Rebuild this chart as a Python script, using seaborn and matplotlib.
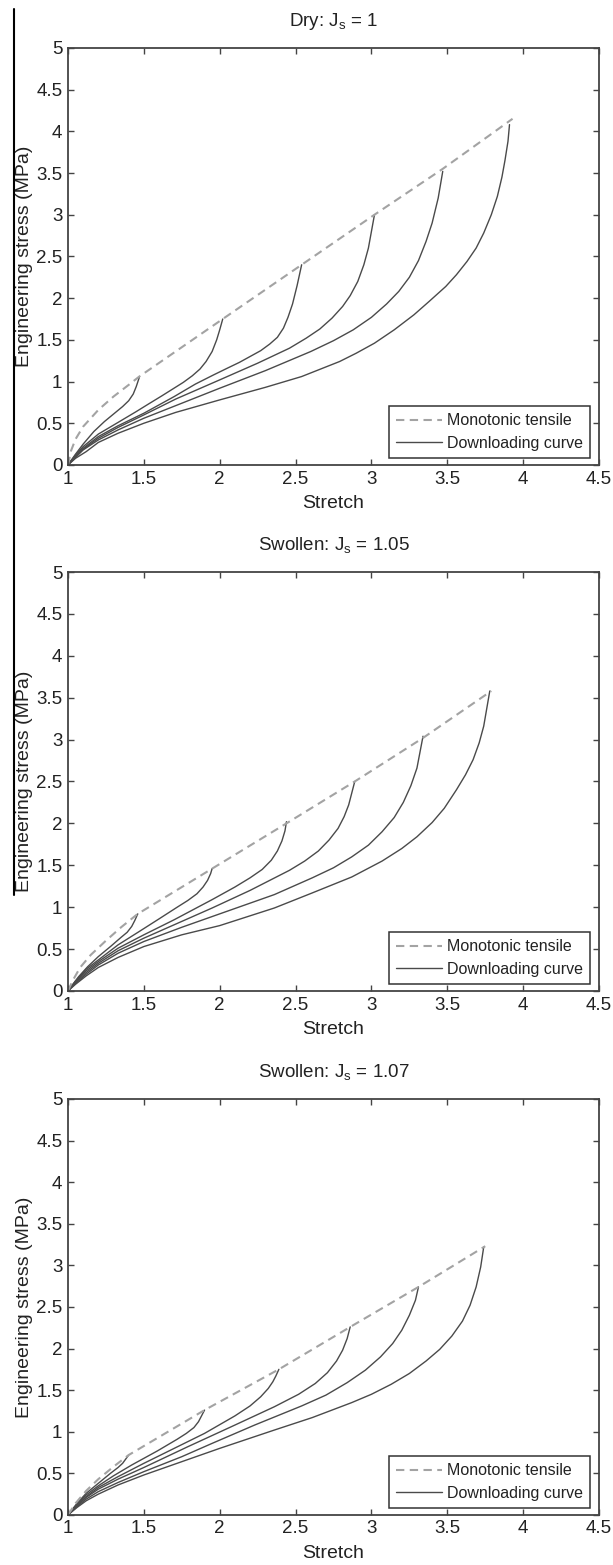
import matplotlib
matplotlib.use("Agg")
import matplotlib.pyplot as plt
from matplotlib.lines import Line2D
import seaborn as sns
import pandas as pd

# ---- Dry: J_s = 1 ----
dry_tensile_x = [1.0, 1.02, 1.05, 1.1, 1.2, 1.3, 1.4, 1.47, 2.02, 2.54, 3.02, 3.47, 3.93]
dry_tensile_y = [0.0, 0.17, 0.31, 0.46, 0.66, 0.82, 0.96, 1.06, 1.75, 2.40, 3.00, 3.55, 4.15]
dry_unload_x = [
    [1.0, 1.05, 1.1, 1.17, 1.24, 1.3, 1.36, 1.4, 1.43, 1.45, 1.47],
    [1.0, 1.05, 1.1, 1.2, 1.33, 1.45, 1.53, 1.62, 1.69, 1.76, 1.82, 1.87, 1.91, 1.95, 1.98, 2.0, 2.02],
    [1.0, 1.05, 1.1, 1.2, 1.33, 1.5, 1.7, 1.84, 1.96, 2.05, 2.13, 2.2, 2.27, 2.33, 2.38, 2.42, 2.45,
     2.48, 2.51, 2.54],
    [1.0, 1.05, 1.1, 1.2, 1.33, 1.5, 1.71, 2.0, 2.25, 2.46, 2.57, 2.66, 2.74, 2.81, 2.86, 2.91, 2.95,
     2.98, 3.0, 3.02],
    [1.0, 1.05, 1.1, 1.2, 1.33, 1.5, 1.75, 2.0, 2.3, 2.6, 2.75, 2.88, 3.0, 3.1, 3.18, 3.25, 3.31,
     3.36, 3.4, 3.44, 3.47],
    [1.0, 1.05, 1.12, 1.2, 1.33, 1.5, 1.71, 2.0, 2.3, 2.54, 2.79, 2.9, 3.02, 3.15, 3.28, 3.38, 3.49,
     3.56, 3.63, 3.69, 3.74, 3.79, 3.83, 3.86, 3.88, 3.9, 3.91],
]
dry_unload_y = [
    [0.0, 0.13, 0.25, 0.40, 0.52, 0.61, 0.70, 0.77, 0.85, 0.94, 1.05],
    [0.0, 0.12, 0.22, 0.37, 0.51, 0.64, 0.73, 0.83, 0.91, 0.99, 1.07, 1.15, 1.24, 1.36, 1.50, 1.62, 1.75],
    [0.0, 0.11, 0.20, 0.34, 0.47, 0.62, 0.82, 0.97, 1.08, 1.16, 1.23, 1.30, 1.37, 1.45, 1.53, 1.64, 1.77,
     1.93, 2.15, 2.40],
    [0.0, 0.10, 0.19, 0.32, 0.45, 0.60, 0.79, 1.02, 1.22, 1.40, 1.52, 1.63, 1.76, 1.90, 2.03, 2.20, 2.40,
     2.60, 2.80, 3.00],
    [0.0, 0.09, 0.18, 0.30, 0.42, 0.56, 0.74, 0.92, 1.13, 1.36, 1.49, 1.62, 1.77, 1.93, 2.08, 2.25, 2.45,
     2.68, 2.90, 3.20, 3.52],
    [0.0, 0.08, 0.16, 0.27, 0.38, 0.50, 0.63, 0.78, 0.93, 1.06, 1.24, 1.34, 1.46, 1.62, 1.80, 1.96, 2.14,
     2.28, 2.44, 2.60, 2.78, 3.00, 3.22, 3.45, 3.65, 3.88, 4.08],
]

# ---- Swollen: J_s = 1.05 ----
sw105_tensile_x = [1.0, 1.03, 1.08, 1.15, 1.25, 1.35, 1.46, 1.95, 2.44, 2.89, 3.34, 3.79]
sw105_tensile_y = [0.0, 0.12, 0.28, 0.43, 0.60, 0.76, 0.92, 1.46, 2.00, 2.50, 3.02, 3.58]
sw105_unload_x = [
    [1.0, 1.07, 1.13, 1.2, 1.28, 1.35, 1.39, 1.42, 1.44, 1.46],
    [1.0, 1.05, 1.12, 1.2, 1.33, 1.47, 1.6, 1.72, 1.79, 1.85, 1.89, 1.92, 1.94, 1.95],
    [1.0, 1.05, 1.12, 1.2, 1.33, 1.5, 1.7, 1.95, 2.1, 2.2, 2.28, 2.34, 2.38, 2.41, 2.43, 2.44],
    [1.0, 1.05, 1.12, 1.2, 1.33, 1.5, 1.7, 1.95, 2.2, 2.46, 2.56, 2.65, 2.72, 2.78, 2.82, 2.85, 2.87, 2.89],
    [1.0, 1.05, 1.12, 1.2, 1.33, 1.5, 1.75, 2.0, 2.36, 2.61, 2.75, 2.87, 2.98, 3.07, 3.15, 3.21, 3.26,
     3.3, 3.32, 3.34],
    [1.0, 1.05, 1.12, 1.2, 1.33, 1.5, 1.75, 2.0, 2.36, 2.61, 2.87, 3.07, 3.2, 3.3, 3.4, 3.48, 3.56,
     3.62, 3.67, 3.71, 3.74, 3.76, 3.78],
]
sw105_unload_y = [
    [0.0, 0.17, 0.29, 0.41, 0.53, 0.64, 0.70, 0.77, 0.84, 0.92],
    [0.0, 0.12, 0.26, 0.37, 0.55, 0.71, 0.86, 1.00, 1.08, 1.16, 1.24, 1.32, 1.40, 1.46],
    [0.0, 0.11, 0.24, 0.35, 0.51, 0.67, 0.85, 1.09, 1.24, 1.35, 1.45, 1.56, 1.67, 1.79, 1.91, 2.02],
    [0.0, 0.10, 0.22, 0.33, 0.48, 0.63, 0.79, 0.99, 1.20, 1.44, 1.55, 1.67, 1.80, 1.94, 2.08, 2.22, 2.36, 2.50],
    [0.0, 0.09, 0.20, 0.31, 0.45, 0.59, 0.76, 0.92, 1.15, 1.35, 1.47, 1.60, 1.74, 1.90, 2.07, 2.25, 2.45,
     2.66, 2.85, 3.04],
    [0.0, 0.08, 0.18, 0.28, 0.40, 0.53, 0.67, 0.78, 0.99, 1.17, 1.36, 1.55, 1.70, 1.84, 2.01, 2.18, 2.40,
     2.58, 2.76, 2.96, 3.16, 3.37, 3.58],
]

# ---- Swollen: J_s = 1.07 ----
sw107_tensile_x = [1.0, 1.05, 1.12, 1.2, 1.3, 1.4, 1.9, 2.39, 2.87, 3.31, 3.75]
sw107_tensile_y = [0.0, 0.14, 0.29, 0.43, 0.58, 0.72, 1.26, 1.75, 2.27, 2.74, 3.23]
sw107_unload_x = [
    [1.0, 1.06, 1.12, 1.2, 1.28, 1.33, 1.36, 1.38, 1.4],
    [1.0, 1.06, 1.12, 1.2, 1.3, 1.42, 1.59, 1.72, 1.78, 1.83, 1.86, 1.88, 1.9],
    [1.0, 1.06, 1.12, 1.2, 1.33, 1.5, 1.7, 1.9, 2.1, 2.2, 2.27, 2.32, 2.35, 2.37, 2.39],
    [1.0, 1.06, 1.12, 1.2, 1.33, 1.5, 1.79, 2.1, 2.36, 2.52, 2.63, 2.71, 2.77, 2.81, 2.84, 2.86],
    [1.0, 1.06, 1.12, 1.2, 1.33, 1.5, 1.75, 1.95, 2.23, 2.54, 2.7, 2.84, 2.96, 3.06, 3.14, 3.2, 3.25,
     3.29, 3.31],
    [1.0, 1.06, 1.12, 1.2, 1.33, 1.5, 1.75, 2.0, 2.36, 2.61, 2.87, 3.0, 3.13, 3.25, 3.36, 3.45, 3.53,
     3.6, 3.65, 3.69, 3.72, 3.74],
]
sw107_unload_y = [
    [0.0, 0.14, 0.26, 0.38, 0.50, 0.57, 0.62, 0.67, 0.72],
    [0.0, 0.13, 0.24, 0.35, 0.47, 0.60, 0.77, 0.91, 0.98, 1.05, 1.12, 1.19, 1.26],
    [0.0, 0.12, 0.22, 0.33, 0.46, 0.62, 0.80, 0.98, 1.19, 1.31, 1.42, 1.52, 1.60, 1.67, 1.75],
    [0.0, 0.11, 0.21, 0.31, 0.43, 0.57, 0.82, 1.08, 1.30, 1.45, 1.58, 1.71, 1.85, 1.98, 2.12, 2.26],
    [0.0, 0.10, 0.19, 0.28, 0.39, 0.52, 0.70, 0.86, 1.08, 1.31, 1.44, 1.59, 1.74, 1.90, 2.06, 2.22, 2.40,
     2.58, 2.74],
    [0.0, 0.09, 0.17, 0.25, 0.36, 0.48, 0.64, 0.80, 1.02, 1.17, 1.35, 1.45, 1.57, 1.70, 1.85, 1.99, 2.15,
     2.33, 2.52, 2.74, 2.98, 3.22],
]

panel_titles = [r"Dry: $\mathregular{J_s}$ = 1",
                r"Swollen: $\mathregular{J_s}$ = 1.05",
                r"Swollen: $\mathregular{J_s}$ = 1.07"]
x_ticks = [1, 1.5, 2, 2.5, 3, 3.5, 4, 4.5]
y_ticks = [0, 0.5, 1, 1.5, 2, 2.5, 3, 3.5, 4, 4.5, 5]
legend_labels = ["Monotonic tensile", "Downloading curve"]

panels = [
    (dry_tensile_x, dry_tensile_y, dry_unload_x, dry_unload_y),
    (sw105_tensile_x, sw105_tensile_y, sw105_unload_x, sw105_unload_y),
    (sw107_tensile_x, sw107_tensile_y, sw107_unload_x, sw107_unload_y),
]

sns.set_theme(style="white")
plt.rcParams["font.family"] = ["Liberation Sans", "DejaVu Sans"]
plt.rcParams["mathtext.fontset"] = "custom"
plt.rcParams["mathtext.rm"] = "Liberation Sans"
plt.rcParams["text.color"] = "#222222"

TEXT = "#222222"
FRAME = "#444444"
DASH_COLOR = "#a3a3a3"
SOLID_COLOR = "#4a4a4a"
DASH_STYLE = (0, (4, 2.6))

fig = plt.figure(figsize=(6.13, 15.65), dpi=100)
boxes = [
    (0.1109, 0.7029, 0.8663, 0.2665),
    (0.1109, 0.3668, 0.8663, 0.2677),
    (0.1109, 0.0320, 0.8663, 0.2658),
]

for (tx, ty, ux, uy), title, box in zip(panels, panel_titles, boxes):
    ax = fig.add_axes(box)
    frames = [pd.DataFrame({"stretch": tx, "stress": ty, "curve": "tensile"})]
    for i, (xs, ys) in enumerate(zip(ux, uy)):
        frames.append(pd.DataFrame({"stretch": xs, "stress": ys, "curve": f"unload{i}"}))
    df = pd.concat(frames, ignore_index=True)

    for name, sub in df.groupby("curve", sort=False):
        if name == "tensile":
            continue
        sns.lineplot(data=sub, x="stretch", y="stress", ax=ax, sort=False,
                     estimator=None, color=SOLID_COLOR, linewidth=1.0)
    tens = df[df["curve"] == "tensile"]
    sns.lineplot(data=tens, x="stretch", y="stress", ax=ax, sort=False,
                 estimator=None, color=DASH_COLOR, linewidth=1.5, linestyle=DASH_STYLE)

    ax.set_xlim(1, 4.5)
    ax.set_ylim(0, 5)
    ax.set_xticks(x_ticks)
    ax.set_xticklabels([f"{v:g}" for v in x_ticks])
    ax.set_yticks(y_ticks)
    ax.set_yticklabels([f"{v:g}" for v in y_ticks])
    ax.tick_params(direction="in", length=4, width=1.0, color=FRAME,
                   top=True, right=True, bottom=True, left=True,
                   labelsize=13.5, labelcolor=TEXT, pad=4)
    for sp in ax.spines.values():
        sp.set_color(FRAME)
        sp.set_linewidth(1.3)

    ax.set_xlabel("Stretch", fontsize=14, color=TEXT)
    ax.set_ylabel("Engineering stress (MPa)", fontsize=14, color=TEXT)
    ax.xaxis.set_label_coords(0.5, -0.072)
    ax.yaxis.set_label_coords(-0.066, 0.5)
    ax.set_title(title, fontsize=13.5, color=TEXT, pad=16)

    handles = [Line2D([], [], color=DASH_COLOR, lw=1.5, linestyle=DASH_STYLE),
               Line2D([], [], color=SOLID_COLOR, lw=1.0)]
    leg = ax.legend(handles, legend_labels, loc="lower right",
                    bbox_to_anchor=(0.983, 0.017), borderaxespad=0, fontsize=11.5,
                    handlelength=2.9, handletextpad=0.3, labelspacing=0.45,
                    borderpad=0.45, fancybox=False, framealpha=1)
    leg.get_frame().set_edgecolor("#333333")
    leg.get_frame().set_linewidth(1.1)
    for t in leg.get_texts():
        t.set_color(TEXT)

# page edge rule running down the left margin
fig.add_artist(Line2D([14 / 613, 14 / 613], [1 - 9 / 1565, 1 - 895 / 1565],
                      transform=fig.transFigure, color="black", lw=1.5))

fig.savefig("out.png", dpi=100)
